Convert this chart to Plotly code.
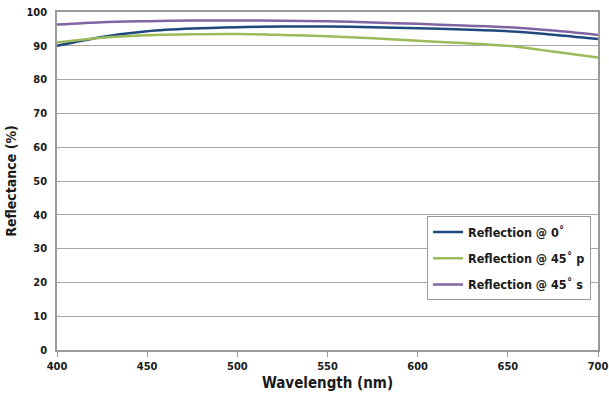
import plotly.graph_objects as go

# Wavelength grid (nm)
wavelength = [400, 425, 450, 475, 500, 525, 550, 575, 600, 625, 650, 675, 700]

# Reflectance (%) for each incidence case
refl_0 = [90.0, 92.6, 94.3, 95.1, 95.5, 95.7, 95.7, 95.5, 95.2, 94.8, 94.3, 93.3, 92.0]
refl_45p = [91.0, 92.4, 93.1, 93.4, 93.5, 93.2, 92.8, 92.2, 91.5, 90.8, 90.0, 88.3, 86.5]
refl_45s = [96.3, 97.0, 97.3, 97.5, 97.5, 97.4, 97.3, 96.9, 96.5, 96.0, 95.5, 94.5, 93.2]

series_names = ["Reflection @ 0˚", "Reflection @ 45˚ p", "Reflection @ 45˚ s"]
series_colors = ["#1F497D", "#9BBB59", "#8064A2"]

x_ticks = [400, 450, 500, 550, 600, 650, 700]
y_ticks = [0, 10, 20, 30, 40, 50, 60, 70, 80, 90, 100]

FONT = "DejaVu Sans Condensed, Liberation Sans Narrow, sans-serif"

fig = go.Figure()
for i, (name, ys, color) in enumerate(zip(series_names, [refl_0, refl_45p, refl_45s], series_colors)):
    fig.add_trace(go.Scatter(
        x=wavelength, y=ys, name=name, mode="lines", legendgroup=f"g{i}",
        line=dict(color=color, width=2.5, shape="spline", smoothing=0.8),
    ))

fig.update_layout(
    width=609, height=400,
    margin=dict(l=57, r=11, t=12, b=50),
    paper_bgcolor="white", plot_bgcolor="white",
    font=dict(family=FONT, size=12, color="#1a1a1a"),
    showlegend=True,
    legend=dict(
        x=0.684, y=0.395, xanchor="left", yanchor="top",
        bgcolor="white", bordercolor="#9a9a9a", borderwidth=1,
        font=dict(family=FONT, size=12.5, color="#1a1a1a", weight="bold"),
        tracegroupgap=7, itemwidth=30,
    ),
)

fig.update_xaxes(
    range=[400, 700], tickvals=x_ticks, ticktext=[str(v) for v in x_ticks],
    showgrid=False, showline=True, linecolor="#9a9a9a", linewidth=1.5, mirror=True,
    ticks="outside", ticklen=5, tickcolor="#9a9a9a",
    tickfont=dict(family=FONT, size=11, weight="bold"),
    title=dict(text="Wavelength (nm)", font=dict(family=FONT, size=15, weight="bold"), standoff=6),
    zeroline=False, automargin=False,
)
fig.update_yaxes(
    range=[0, 100], tickvals=y_ticks, ticktext=[str(v) for v in y_ticks],
    showgrid=True, gridcolor="#a6a6a6", gridwidth=1,
    showline=True, linecolor="#9a9a9a", linewidth=1.5, mirror=True,
    ticks="", ticklen=0, ticklabelstandoff=6,
    tickfont=dict(family=FONT, size=11, weight="bold"),
    title=dict(text="Reflectance (%)", font=dict(family=FONT, size=14, weight="bold"), standoff=6),
    zeroline=False, automargin=False,
)

fig.write_html("out.html")
